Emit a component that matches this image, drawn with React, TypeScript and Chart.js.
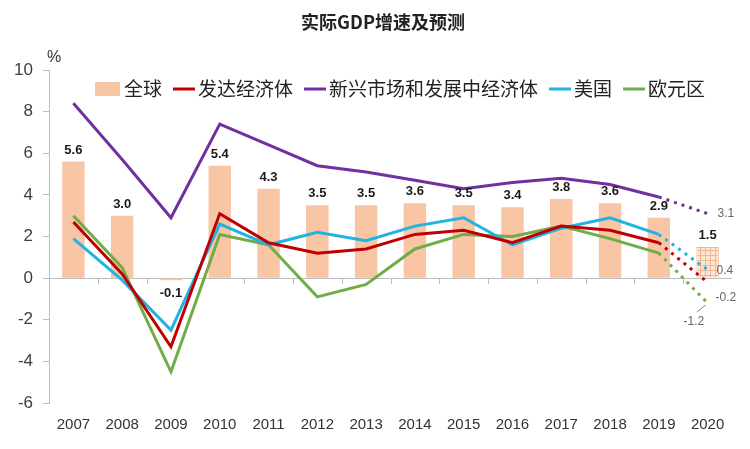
import React, { useEffect, useRef } from 'react';
import { Chart, registerables } from 'chart.js';
Chart.register(...registerables);

const years = ['2007','2008','2009','2010','2011','2012','2013','2014','2015','2016','2017','2018','2019','2020'];
const world = [5.6, 3.0, -0.1, 5.4, 4.3, 3.5, 3.5, 3.6, 3.5, 3.4, 3.8, 3.6, 2.9, 1.5];
const advanced = [2.7, 0.2, -3.3, 3.1, 1.7, 1.2, 1.4, 2.1, 2.3, 1.7, 2.5, 2.3, 1.7, -0.2];
const emerging = [8.4, 5.7, 2.9, 7.4, 6.4, 5.4, 5.1, 4.7, 4.3, 4.6, 4.8, 4.5, 3.9, 3.1];
const usa = [1.9, -0.1, -2.5, 2.6, 1.6, 2.2, 1.8, 2.5, 2.9, 1.6, 2.4, 2.9, 2.1, 0.4];
const euro = [3.0, 0.5, -4.5, 2.1, 1.6, -0.9, -0.3, 1.4, 2.1, 2.0, 2.5, 1.9, 1.2, -1.2];
const yTicks = [10, 8, 6, 4, 2, 0, -2, -4, -6];
const seriesNames = ['全球', '发达经济体', '新兴市场和发展中经济体', '美国', '欧元区'];
const titleText = '实际GDP增速及预测';
const unitText = '%';

const PEACH = '#F8C5A5';
const RED = '#C00000';
const PURPLE = '#7030A0';
const CYAN = '#21B3E3';
const GREEN = '#70AD47';
const colors = [PEACH, RED, PURPLE, CYAN, GREEN];
const CJK = '"Noto Sans CJK SC", sans-serif';
const LAT = '"Liberation Sans", Arial, sans-serif';

function makePattern(): CanvasPattern | string {
  const c = document.createElement('canvas');
  c.width = 5; c.height = 5;
  const g = c.getContext('2d');
  if (!g) return PEACH;
  g.fillStyle = '#FCE6D7';
  g.fillRect(0, 0, 5, 5);
  g.fillStyle = '#F3B58D';
  g.fillRect(0, 0, 5, 1);
  g.fillRect(0, 0, 1, 5);
  return g.createPattern(c, 'repeat') || PEACH;
}

const overlay = {
  id: 'overlay',
  beforeDatasetsDraw(chart: any) {
    const { ctx, chartArea } = chart;
    const y0 = chart.scales.y.getPixelForValue(0);
    ctx.save();
    ctx.strokeStyle = '#BDBDBD';
    ctx.lineWidth = 1;
    ctx.beginPath();
    ctx.moveTo(chartArea.left, Math.round(y0) + 0.5);
    ctx.lineTo(chartArea.right, Math.round(y0) + 0.5);
    const n = years.length;
    const w = (chartArea.right - chartArea.left) / n;
    for (let i = 1; i < n; i++) {
      const x = Math.round(chartArea.left + i * w) + 0.5;
      ctx.moveTo(x, y0);
      ctx.lineTo(x, y0 + 6);
    }
    ctx.stroke();
    ctx.restore();
  },
  afterDraw(chart: any) {
    const { ctx } = chart;
    ctx.save();
    // bar value labels
    const meta = chart.getDatasetMeta(0);
    ctx.font = `bold 13px ${LAT}`;
    ctx.fillStyle = '#1a1a1a';
    ctx.textAlign = 'center';
    meta.data.forEach((el: any, i: number) => {
      const v = world[i];
      const txt = v.toFixed(1);
      if (v >= 0) {
        ctx.textBaseline = 'bottom';
        ctx.fillText(txt, el.x, el.y - 5);
      } else {
        ctx.textBaseline = 'top';
        ctx.fillText(txt, el.x, el.y + 7);
      }
    });
    // forecast labels
    ctx.font = `12px ${LAT}`;
    ctx.fillStyle = '#666';
    ctx.textBaseline = 'middle';
    ctx.textAlign = 'left';
    const last = years.length - 1;
    const offs: Record<number, [number, number]> = { 1: [8, 15], 2: [10, 0], 3: [9, 1], 4: [-24, 19] };
    [1, 2, 3, 4].forEach((di) => {
      const m = chart.getDatasetMeta(di);
      const p = m.data[last];
      const val = chart.data.datasets[di].data[last];
      const [dx, dy] = offs[di];
      ctx.fillText(Number(val).toFixed(1), p.x + dx, p.y + dy);
      if (di === 4) {
        ctx.strokeStyle = '#888';
        ctx.lineWidth = 1;
        ctx.beginPath();
        ctx.moveTo(p.x - 2, p.y + 2);
        ctx.lineTo(p.x - 11, p.y + 9);
        ctx.stroke();
      }
    });
    // title
    ctx.font = `bold 18px ${CJK}`;
    ctx.fillStyle = '#222';
    ctx.textAlign = 'center';
    ctx.textBaseline = 'middle';
    ctx.fillText(titleText, 383, 22);
    // unit
    ctx.font = `16px ${LAT}`;
    ctx.fillStyle = '#333';
    ctx.textAlign = 'left';
    ctx.fillText(unitText, 47, 58);
    // legend
    ctx.font = `19px ${CJK}`;
    ctx.textBaseline = 'middle';
    let x = 95;
    const ly = 89;
    seriesNames.forEach((name, i) => {
      if (i === 0) {
        ctx.fillStyle = PEACH;
        ctx.fillRect(x, ly - 7, 25, 14);
        x += 29;
      } else {
        ctx.strokeStyle = colors[i];
        ctx.lineWidth = 3;
        ctx.beginPath();
        ctx.moveTo(x, ly);
        ctx.lineTo(x + 22, ly);
        ctx.stroke();
        x += 25;
      }
      ctx.fillStyle = '#222';
      ctx.fillText(name, x, ly);
      x += ctx.measureText(name).width + 11;
    });
    ctx.restore();
  },
};

export default function App() {
  const ref = useRef<HTMLCanvasElement | null>(null);
  useEffect(() => {
    document.body.style.margin = '0';
    const cv = ref.current;
    if (!cv) return;
    const pattern = makePattern();
    const last = world.length - 1;
    const dash = (ctx: any) => (ctx.p0DataIndex === last - 1 ? [3, 5] : undefined);
    const lineDs = (label: string, data: number[], color: string) => ({
      type: 'line' as const,
      label,
      data,
      borderColor: color,
      backgroundColor: color,
      borderWidth: 3,
      pointRadius: 0,
      tension: 0,
      fill: false,
      order: 1,
      segment: { borderDash: dash },
    });
    const chart = new Chart(cv, {
      type: 'bar',
      data: {
        labels: years,
        datasets: [
          {
            type: 'bar',
            label: seriesNames[0],
            data: world,
            backgroundColor: world.map((_, i) => (i === last ? pattern : PEACH)) as any,
            borderColor: world.map((_, i) => (i === last ? '#F3B58D' : PEACH)),
            borderWidth: world.map((_, i) => (i === last ? 1 : 0)),
            categoryPercentage: 1,
            barPercentage: 0.46,
            order: 10,
          } as any,
          lineDs(seriesNames[1], advanced, RED),
          lineDs(seriesNames[2], emerging, PURPLE),
          lineDs(seriesNames[3], usa, CYAN),
          lineDs(seriesNames[4], euro, GREEN),
        ],
      },
      options: {
        animation: false,
        responsive: false,
        maintainAspectRatio: false,
        layout: { padding: { top: 70, right: 18, left: 0, bottom: 0 } },
        plugins: { legend: { display: false }, title: { display: false }, tooltip: { enabled: false } },
        scales: {
          x: {
            grid: { display: false },
            border: { display: false },
            ticks: { color: '#333', font: { family: LAT, size: 15 }, padding: 5, maxRotation: 0 },
            afterFit: (s: any) => { s.height = 46; },
          },
          y: {
            min: -6,
            max: 10,
            afterBuildTicks: (s: any) => { s.ticks = yTicks.map((v) => ({ value: v })); },
            grid: { drawOnChartArea: false, drawTicks: true, tickLength: 6, color: '#BDBDBD' },
            border: { display: true, color: '#BDBDBD' },
            ticks: { color: '#404040', font: { family: LAT, size: 17 }, padding: 10 },
            afterFit: (s: any) => { s.width = 49; },
          },
        },
      },
      plugins: [overlay],
    });
    return () => chart.destroy();
  }, []);
  return (
    <div style={{ position: 'fixed', left: 0, top: 0, width: 750, height: 449, background: '#fff' }}>
      <canvas ref={ref} width={750} height={449} style={{ width: 750, height: 449, display: 'block' }} />
    </div>
  );
}
